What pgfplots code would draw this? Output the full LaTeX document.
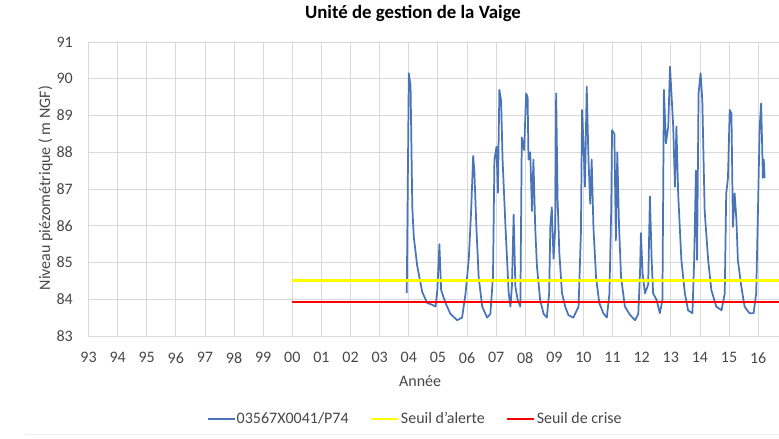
\documentclass[border=0pt]{standalone}
\usepackage{pgfplots}
\pgfplotsset{compat=1.18}
\usepackage{fontspec}
\setmainfont{Carlito}
\definecolor{gridc}{HTML}{D9D9D9}
\definecolor{serie}{HTML}{4A74B8}
\definecolor{jaune}{HTML}{FFFF00}
\definecolor{rouge}{HTML}{FF0000}
\begin{document}
\begin{tikzpicture}
\path[use as bounding box] (0pt,0pt) rectangle (584.25pt,329.25pt);
\draw[black!7, line width=0.75pt] (18.75pt,3pt) -- (584.25pt,3pt);
\begin{axis}[
  scale only axis,
  width=518.25pt, height=220.5pt,
  at={(66.375pt,77.25pt)}, anchor=south west,
  xmin=1993, xmax=2016.73,
  ymin=83, ymax=91,
  axis line style={draw=none},
  major tick length=0pt,
  xtick={1993,...,2016},
  xticklabels={93,94,95,96,97,98,99,00,01,02,03,04,05,06,07,08,09,10,11,12,13,14,15,16},
  ytick={83,...,91},
  grid=major,
  major grid style={gridc, line width=0.6pt},
  /pgf/number format/assume math mode=true,
  tick label style={font=\fontsize{12}{14}\selectfont, text=black!72},
  yticklabel style={anchor=east, inner sep=0pt, xshift=-11.6pt},
  xticklabel style={anchor=north, inner sep=0pt, yshift=-12pt},
  title={\textbf{Unité de gestion de la Vaige}},
  title style={at={(axis description cs:0.4696,1.0704)}, anchor=center, font=\fontsize{14.1}{16}\selectfont, inner sep=0pt},
  xlabel={Année},
  xlabel style={at={(axis description cs:0.48,-0.153)}, anchor=center, font=\fontsize{12}{14}\selectfont, text=black!72, inner sep=0pt},
  ylabel={Niveau piézométrique ( m NGF)},
  ylabel style={at={(axis description cs:-0.0622,0.503)}, anchor=center, font=\fontsize{12}{14}\selectfont, text=black!72, inner sep=0pt},
  legend style={at={(axis description cs:0.4725,-0.2823)}, anchor=center, draw=none, fill=none,
    legend columns=3, font=\fontsize{12}{14}\selectfont, text=black!72,
    /tikz/every even column/.append style={column sep=15pt},
    nodes={inner sep=1pt}},
  legend image code/.code={\draw[#1] (0pt,0pt) -- (20pt,0pt);},
  clip=true,
]
\addplot[serie, line width=1.3pt, line join=round] coordinates {
(2003.93,84.17)(2004.00,90.15)(2004.06,89.8)(2004.12,86.5)(2004.17,85.7)(2004.29,84.9)
(2004.46,84.2)(2004.63,83.9)(2004.80,83.85)(2004.92,83.8)(2004.98,84.25)(2005.05,85.5)
(2005.11,84.25)(2005.26,83.9)(2005.43,83.6)(2005.66,83.43)(2005.83,83.5)(2005.95,84.17)
(2006.06,85.1)(2006.14,86.4)(2006.21,87.9)(2006.25,87.5)(2006.32,85.97)(2006.40,84.6)
(2006.52,83.8)(2006.69,83.5)(2006.80,83.6)(2006.89,84.6)(2006.94,87.8)(2007.01,88.15)
(2007.06,86.9)(2007.11,89.7)(2007.17,89.4)(2007.22,87.8)(2007.32,85.97)(2007.43,84.17)
(2007.49,83.8)(2007.54,84.34)(2007.60,86.3)(2007.66,84.34)(2007.74,83.98)(2007.83,83.8)
(2007.88,88.4)(2007.96,88.06)(2008.03,89.6)(2008.08,89.5)(2008.11,87.8)(2008.17,88.0)
(2008.23,86.4)(2008.28,87.8)(2008.34,85.97)(2008.40,84.9)(2008.51,83.98)(2008.63,83.6)
(2008.74,83.5)(2008.82,84.17)(2008.86,85.97)(2008.91,86.5)(2008.97,85.1)(2009.03,85.97)
(2009.06,89.6)(2009.11,86.7)(2009.17,85.25)(2009.26,84.17)(2009.37,83.8)(2009.48,83.57)
(2009.65,83.5)(2009.83,83.8)(2009.91,85.8)(2009.95,89.15)(2010.00,88.2)(2010.05,87.06)
(2010.11,89.78)(2010.17,87.8)(2010.23,86.6)(2010.28,87.8)(2010.34,85.97)(2010.43,84.6)
(2010.54,83.9)(2010.68,83.62)(2010.80,83.5)(2010.89,84.16)(2010.95,86.4)(2010.98,88.6)
(2011.06,88.5)(2011.11,85.6)(2011.16,88.0)(2011.22,85.97)(2011.29,84.6)(2011.42,83.8)
(2011.60,83.57)(2011.77,83.43)(2011.88,83.6)(2011.94,84.7)(2011.97,85.8)(2012.03,84.7)
(2012.11,84.16)(2012.22,84.4)(2012.28,86.8)(2012.34,85.07)(2012.39,84.16)(2012.51,83.98)
(2012.62,83.62)(2012.71,83.98)(2012.76,89.7)(2012.83,88.24)(2012.91,88.7)(2012.97,90.33)
(2013.02,89.6)(2013.08,88.7)(2013.14,87.06)(2013.19,88.7)(2013.25,86.88)(2013.36,85.07)
(2013.48,84.16)(2013.59,83.7)(2013.74,83.62)(2013.80,85.07)(2013.86,87.5)(2013.90,85.07)
(2013.95,89.6)(2014.02,90.15)(2014.08,89.4)(2014.16,86.4)(2014.28,85.07)(2014.39,84.25)
(2014.56,83.8)(2014.74,83.7)(2014.85,84.16)(2014.90,86.88)(2014.96,87.3)(2015.02,89.15)
(2015.08,89.06)(2015.13,85.97)(2015.19,86.88)(2015.25,86.16)(2015.30,85.07)(2015.42,84.34)
(2015.53,83.8)(2015.70,83.62)(2015.84,83.62)(2015.93,84.16)(2015.99,86.4)(2016.05,88.7)
(2016.10,89.33)(2016.16,87.3)(2016.19,87.8)(2016.22,87.3)
};
\addlegendentry{03567X0041/P74}
\addplot[jaune, line width=2.2pt] coordinates {(2000,84.5)(2017,84.5)};
\addlegendentry{Seuil d'alerte}
\addplot[rouge, line width=1.9pt] coordinates {(2000,83.92)(2017,83.92)};
\addlegendentry{Seuil de crise}
\end{axis}
\end{tikzpicture}
\end{document}
